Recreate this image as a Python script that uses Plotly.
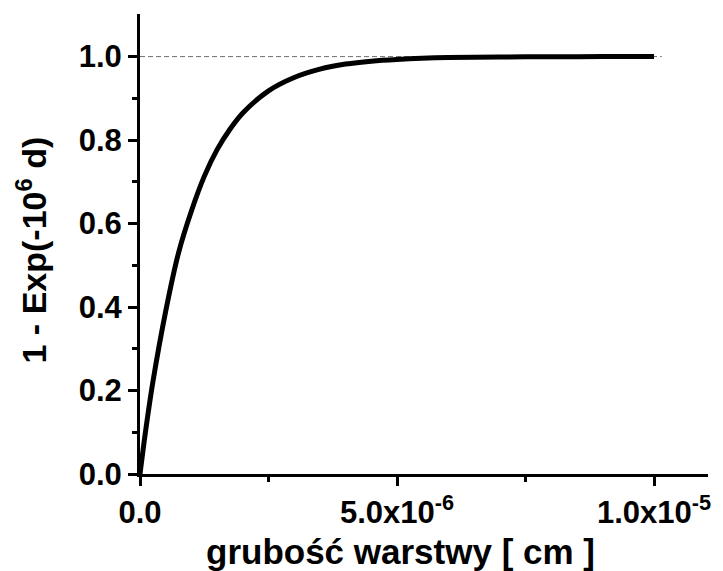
import plotly.graph_objects as go

# Layer thickness d [cm] and the absorbed fraction 1 - exp(-1e6 d)
thickness_cm = [0.0, 0.1e-6, 0.25e-6, 0.5e-6, 0.75e-6, 1.0e-6, 1.25e-6, 1.5e-6, 1.75e-6,
                2.0e-6, 2.5e-6, 3.0e-6, 3.5e-6, 4.0e-6, 4.5e-6, 5.0e-6, 6.0e-6,
                7.0e-6, 8.0e-6, 9.0e-6, 1.0e-5]
absorbed = [0.0, 0.095, 0.22, 0.39, 0.53, 0.63, 0.713, 0.777, 0.826,
            0.865, 0.918, 0.95, 0.97, 0.982, 0.989, 0.993, 0.9975,
            0.999, 0.9997, 0.9999, 1.0]

# Saturation level guide
saturation_level = 1.0
saturation_x = [0.0, 1.015e-5]

x_tickvals = [0.0, 5.0e-6, 1.0e-5]
x_ticktext = ["0.0", "5.0x10<sup>-6</sup>", "1.0x10<sup>-5</sup>"]
y_tickvals = [0.0, 0.2, 0.4, 0.6, 0.8, 1.0]
y_ticktext = ["0.0", "0.2", "0.4", "0.6", "0.8", "1.0"]

x_title = "grubość warstwy [ cm ]"
y_title = "1 - Exp(-10<sup>6</sup> d)"

FONT = "Liberation Sans, Arial, sans-serif"
title_font = dict(family=FONT, size=35, color="black", weight="bold")

fig = go.Figure()

fig.add_shape(type="line", xref="x", yref="y",
              x0=saturation_x[0], x1=saturation_x[1],
              y0=saturation_level, y1=saturation_level,
              line=dict(color="#707070", width=1, dash="5px,3px"),
              layer="below")

fig.add_trace(go.Scatter(
    x=thickness_cm, y=absorbed, mode="lines",
    line=dict(color="black", width=5, shape="spline", smoothing=0.8),
    showlegend=False, hoverinfo="skip",
))

axis_common = dict(
    showline=True, linecolor="black", linewidth=3,
    ticks="outside", ticklen=9, tickwidth=3, tickcolor="black",
    showgrid=False, zeroline=False, mirror=False,
    tickfont=dict(family=FONT, size=31, color="black", weight="bold"),
)

fig.update_xaxes(
    range=[0, 1.105e-5], tickmode="array", tickvals=x_tickvals, ticktext=x_ticktext,
    minor=dict(ticks="outside", ticklen=5, tickwidth=3, tickcolor="black",
               tickmode="array", tickvals=[2.5e-6, 7.5e-6]),
    **axis_common,
)
fig.update_yaxes(
    range=[0, 1.102], tickmode="array", tickvals=y_tickvals, ticktext=y_ticktext,
    minor=dict(ticks="outside", ticklen=5, tickwidth=3, tickcolor="black",
               tickmode="array", tickvals=[0.1, 0.3, 0.5, 0.7, 0.9]),
    **axis_common,
)

# Axis titles placed as annotations for precise positioning
fig.add_annotation(text=x_title, xref="paper", yref="paper",
                   x=0.458, y=-0.168, xanchor="center", yanchor="middle",
                   showarrow=False, font=title_font)
fig.add_annotation(text=y_title, xref="paper", yref="paper",
                   x=-0.191, y=0.487, xanchor="center", yanchor="middle",
                   textangle=-90, showarrow=False,
                   font=dict(family=FONT, size=34, color="black", weight="bold"))

fig.update_layout(
    width=723, height=571,
    margin=dict(l=140, r=13, t=14, b=97),
    paper_bgcolor="white", plot_bgcolor="white",
)

fig.write_html("out.html")
